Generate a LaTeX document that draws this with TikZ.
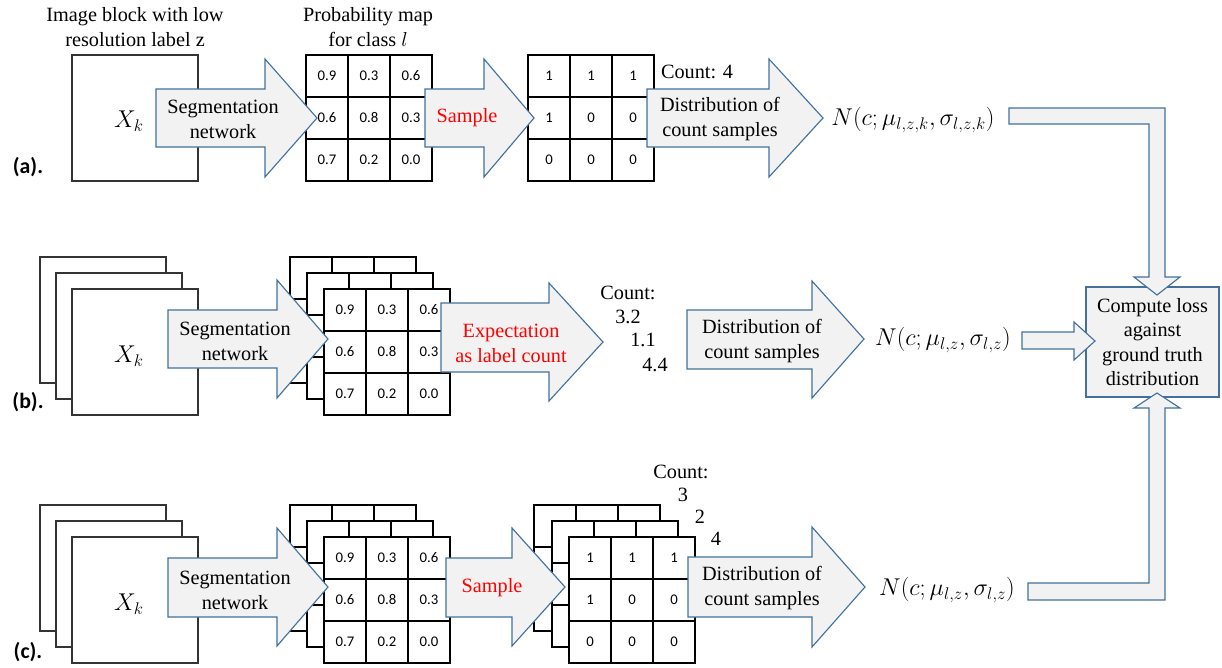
\documentclass[tikz,border=0pt]{standalone}
\usepackage{fontspec}
\setmainfont{Liberation Serif}
\newfontfamily\calibfont{Carlito}
\definecolor{arrowedge}{RGB}{65,113,156}
\definecolor{arrowfill}{RGB}{242,242,242}
\tikzset{
    imgblock/.style={draw=black!80, line width=1pt, fill=white, minimum size=3.15cm, inner sep=0pt},
    cell/.style={draw=black, line width=0.9pt, fill=white, minimum size=1.05cm, inner sep=0pt, font=\calibfont\fontsize{10.5}{12}\selectfont},
    blockarrow/.style={draw=arrowedge, line width=0.8pt, fill=arrowfill, line join=miter},
    txt/.style={align=center, inner sep=0pt, font=\fontsize{14.4}{17.8}\selectfont},
    redtxt/.style={txt, text=red},
    mathlbl/.style={inner sep=0pt, font=\fontsize{17}{20}\selectfont},
    rowlbl/.style={inner sep=0pt, font=\calibfont\bfseries\fontsize{15.5}{18}\selectfont},
    lossbox/.style={draw=arrowedge, line width=0.8pt, fill=arrowfill, minimum width=3.325cm, minimum height=2.75cm, align=center, inner sep=0pt, font=\fontsize{14.4}{17.2}\selectfont},
}

\begin{document}
\begin{tikzpicture}[x=0.025cm, y=-0.025cm]
    \useasboundingbox (0,0) rectangle (1222,667);

    % headers and row labels
    \node[txt] (hdrimg) at (135,27) {Image block with low\\resolution label z};
    \node[txt] (hdrprob) at (368,27) {Probability map\\for class $l$};
    \node[rowlbl] (rowa) at (28,167) {(a).};
    \node[rowlbl] (rowb) at (28,402) {(b).};
    \node[rowlbl] (rowc) at (28,652) {(c).};

    % image blocks
    \foreach \cx/\cy [count=\n] in {103/320, 119/336, 103/568, 119/584}
        \node[imgblock] (back\n) at (\cx,\cy) {};
    \node[imgblock] (xa) at (135,118) {};
    \node[imgblock] (xb) at (135,352) {};
    \node[imgblock] (xc) at (135,600) {};
    \node[mathlbl] (xka) at (129,121) {$X_k$};
    \node[mathlbl] (xkb) at (129,356) {$X_k$};
    \node[mathlbl] (xkc) at (129,604) {$X_k$};

    % grids behind
    \foreach \gx/\gy [count=\n] in {290/257, 307/273, 290/505, 307/521, 534/505, 552/521}
        \foreach \i in {0,1,2}
            \foreach \j in {0,1,2}
                \node[cell] (bk\n\i\j) at (\gx+21+42*\i, \gy+21+42*\j) {};

    % probability maps
    \foreach \gx/\gy/\g in {306/55/pa, 324/289/pb, 324/537/pc}
        \foreach \u/\v/\w [count=\r from 0] in {0.9/0.3/0.6, 0.6/0.8/0.3, 0.7/0.2/0.0} {
            \node[cell] (\g\r0) at (\gx+21, \gy+21+42*\r) {\u};
            \node[cell] (\g\r1) at (\gx+63, \gy+21+42*\r) {\v};
            \node[cell] (\g\r2) at (\gx+105, \gy+21+42*\r) {\w};
        }

    % sampled maps
    \foreach \gx/\gy/\g in {528/55/sa, 569/537/sc}
        \foreach \u/\v/\w [count=\r from 0] in {1/1/1, 1/0/0, 0/0/0} {
            \node[cell] (\g\r0) at (\gx+21, \gy+21+42*\r) {\u};
            \node[cell] (\g\r1) at (\gx+63, \gy+21+42*\r) {\v};
            \node[cell] (\g\r2) at (\gx+105, \gy+21+42*\r) {\w};
        }

    % block arrows
    \draw[blockarrow] (156,89) -- (265,89) -- (265,59) -- (317,118) -- (265,177) -- (265,147) -- (156,147) -- cycle;
    \draw[blockarrow] (425,89) -- (484,89) -- (484,59) -- (534,118) -- (484,177) -- (484,147) -- (425,147) -- cycle;
    \draw[blockarrow] (647,89) -- (769,89) -- (769,59) -- (823,118) -- (769,177) -- (769,147) -- (647,147) -- cycle;
    \draw[blockarrow] (168,310) -- (277,310) -- (277,280) -- (328,339) -- (277,398) -- (277,368) -- (168,368) -- cycle;
    \draw[blockarrow] (441,303) -- (549,303) -- (549,283) -- (603,342) -- (549,401) -- (549,372) -- (441,372) -- cycle;
    \draw[blockarrow] (687,310) -- (812,310) -- (812,281) -- (864,339) -- (812,398) -- (812,369) -- (687,369) -- cycle;
    \draw[blockarrow] (168,558) -- (277,558) -- (277,528) -- (328,587) -- (277,646) -- (277,617) -- (168,617) -- cycle;
    \draw[blockarrow] (446,558) -- (512,558) -- (512,528) -- (565,587) -- (512,646) -- (512,617) -- (446,617) -- cycle;
    \draw[blockarrow] (688,557) -- (812,557) -- (812,527) -- (865,587) -- (812,647) -- (812,617) -- (688,617) -- cycle;

    \node[txt] (sega) at (223,119) {Segmentation\\network};
    \node[redtxt] (sampa) at (467,118) {Sample};
    \node[txt] (dista) at (720,119) {Distribution of\\count samples};
    \node[txt] (segb) at (235,341) {Segmentation\\network};
    \node[redtxt] (expb) at (511,343) {Expectation\\as label count};
    \node[txt] (distb) at (762,341) {Distribution of\\count samples};
    \node[txt] (segc) at (235,590) {Segmentation\\network};
    \node[redtxt] (sampc) at (492,588) {Sample};
    \node[txt] (distc) at (762,588) {Distribution of\\count samples};

    % counts
    \node[txt] (cnta) at (697,72) {Count: 4};
    \node[txt] (cntb) at (628,293) {Count:};
    \node[txt] (cntb1) at (628,317) {3.2};
    \node[txt] (cntb2) at (643,340) {1.1};
    \node[txt] (cntb3) at (655,365) {4.4};
    \node[txt] (cntc) at (681,472) {Count:};
    \node[txt] (cntc1) at (683,495) {3};
    \node[txt] (cntc2) at (700,517) {2};
    \node[txt] (cntc3) at (716,539) {4};

    % distributions
    \node[mathlbl] (na) at (913,120) {$N(c;\mu_{l,z,k},\sigma_{l,z,k})$};
    \node[mathlbl] (nb) at (943,340) {$N(c;\mu_{l,z},\sigma_{l,z})$};
    \node[mathlbl] (nc) at (947,590) {$N(c;\mu_{l,z},\sigma_{l,z})$};

    \node[lossbox] (loss) at (1152.5,342) {Compute loss\\against\\ground truth\\distribution};

    \draw[blockarrow] (1009,108) -- (1165,108) -- (1165,277) -- (1180,277) -- (1157,295) -- (1134,277) -- (1149,277) -- (1149,124) -- (1009,124) -- cycle;
    \draw[blockarrow] (1022,332) -- (1074,332) -- (1074,322) -- (1095,341) -- (1074,360) -- (1074,349) -- (1022,349) -- cycle;
    \draw[blockarrow] (1028,583) -- (1149,583) -- (1149,408) -- (1134,408) -- (1157,393) -- (1180,408) -- (1165,408) -- (1165,600) -- (1028,600) -- cycle;
\end{tikzpicture}
\end{document}
